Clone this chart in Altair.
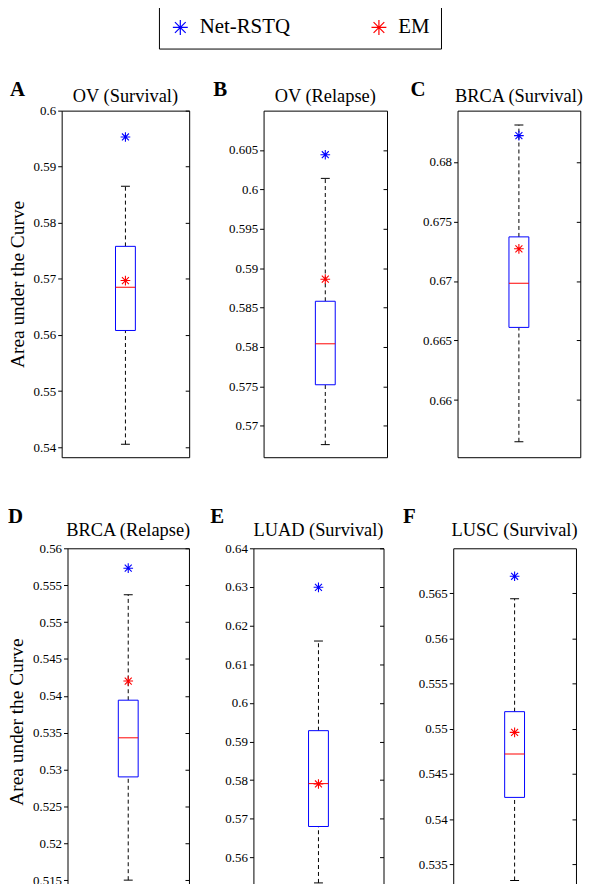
import altair as alt
import pandas as pd

# ---------------- data ----------------
panels = ["OV (Survival)", "OV (Relapse)", "BRCA (Survival)",
          "BRCA (Relapse)", "LUAD (Survival)", "LUSC (Survival)"]
letters = ["A", "B", "C", "D", "E", "F"]
lower_whisker = [0.5405, 0.5676, 0.6565, 0.5150, 0.5534, 0.5332]
q1 = [0.5608, 0.5752, 0.6661, 0.5290, 0.5680, 0.5424]
median = [0.5685, 0.5804, 0.6698, 0.5343, 0.5791, 0.5472]
q3 = [0.5758, 0.5858, 0.6737, 0.5394, 0.5928, 0.5519]
upper_whisker = [0.5865, 0.6014, 0.6831, 0.5537, 0.6160, 0.5644]
net_rstq = [0.5953, 0.6044, 0.6822, 0.5573, 0.6299, 0.5669]
em = [0.5697, 0.5886, 0.6727, 0.5420, 0.5790, 0.5496]
series = ["Net-RSTQ", "EM"]
series_colors = ["#0000ff", "#ff0000"]

y_domains = [[0.5382, 0.6], [0.566, 0.61], [0.6552, 0.6843],
             [0.513, 0.56], [0.5503, 0.64], [0.5316, 0.570]]
tick_values = [
    [0.54, 0.55, 0.56, 0.57, 0.58, 0.59, 0.6],
    [0.57, 0.575, 0.58, 0.585, 0.59, 0.595, 0.6, 0.605],
    [0.66, 0.665, 0.67, 0.675, 0.68],
    [0.515, 0.52, 0.525, 0.53, 0.535, 0.54, 0.545, 0.55, 0.555, 0.56],
    [0.56, 0.57, 0.58, 0.59, 0.6, 0.61, 0.62, 0.63, 0.64],
    [0.535, 0.54, 0.545, 0.55, 0.555, 0.56, 0.565],
]
y_title = "Area under the Curve"

# ---------------- styling / layout ----------------
FONT = "Liberation Serif"
STAR = "M-1,0L1,0M0,-1L0,1M-0.72,-0.72L0.72,0.72M-0.72,0.72L0.72,-0.72"
BLUE = "#0000ff"
RED = "#ff0000"
widths = [128.4, 124.3, 123.6, 122.3, 131, 123.6]
H = 349
letter_dx = [-52, -50.7, -47.4, -60, -43.5, -50.5]
letter_dy = [-15, -15, -15, -25, -25.5, -25]
title_dy = [-9, -9, -9, -12.5, -12.5, -12.5]


def panel(i):
    w = widths[i]
    box = pd.DataFrame({
        "panel": [panels[i]], "letter": [letters[i]],
        "lo": [lower_whisker[i]], "q1": [q1[i]], "med": [median[i]],
        "q3": [q3[i]], "hi": [upper_whisker[i]],
    })
    stars = pd.DataFrame({
        "panel": [panels[i]] * 2, "series": series,
        "value": [net_rstq[i], em[i]],
    })
    ysc = alt.Scale(domain=y_domains[i], nice=False, zero=False)
    xenc = alt.X("panel:N", axis=None, scale=alt.Scale(type="point", padding=0.5))
    left_axis = alt.Axis(
        orient="left", values=tick_values[i], format="~g", tickSize=4,
        labelPadding=2, domain=False, grid=False,
        title=y_title if i in (0, 3) else None, titlePadding=6,
    )
    right_axis = alt.Axis(
        orient="right", values=tick_values[i], labels=False, tickSize=4,
        offset=-4, domain=False, grid=False, title=None,
    )
    base = alt.Chart(box).encode(x=xenc)
    w_lo = base.mark_rule(color="black", strokeWidth=1, strokeDash=[4, 3]).encode(
        y=alt.Y("lo:Q", scale=ysc, axis=left_axis), y2="q1:Q")
    w_hi = base.mark_rule(color="black", strokeWidth=1, strokeDash=[4, 3]).encode(
        y=alt.Y("q3:Q", scale=ysc, axis=right_axis), y2="hi:Q")
    bx = base.mark_bar(size=20, fill="white", stroke=BLUE, strokeWidth=1).encode(
        y=alt.Y("q1:Q", scale=ysc, axis=None), y2="q3:Q")
    med = base.mark_tick(size=20, thickness=1, color=RED, opacity=1).encode(
        y=alt.Y("med:Q", scale=ysc, axis=None))
    cap_lo = base.mark_tick(size=9, thickness=1, color="black", opacity=1).encode(
        y=alt.Y("lo:Q", scale=ysc, axis=None))
    cap_hi = base.mark_tick(size=9, thickness=1, color="black", opacity=1).encode(
        y=alt.Y("hi:Q", scale=ysc, axis=None))
    pts = alt.Chart(stars).mark_point(
        shape=STAR, size=95, filled=False, strokeWidth=1.1, opacity=1
    ).encode(
        x=xenc,
        y=alt.Y("value:Q", scale=ysc, axis=None),
        color=alt.Color(
            "series:N",
            scale=alt.Scale(domain=series, range=series_colors),
            legend=alt.Legend(
                orient="none", legendX=98, legendY=-105.5, direction="horizontal",
                title=None, labelFont=FONT, labelFontSize=21, labelColor="black",
                symbolType=STAR, symbolSize=225, symbolStrokeWidth=1.2,
                labelOffset=9, columnPadding=79, padding=11,
                strokeColor="black", fillColor="white",
            ),
        ),
    )
    letter = base.mark_text(
        align="left", baseline="alphabetic", font=FONT, fontSize=21,
        fontWeight="bold", color="black",
    ).encode(x=alt.value(letter_dx[i]), y=alt.value(letter_dy[i]), text="letter:N")
    ttl = base.mark_text(
        align="center", baseline="alphabetic", font=FONT, fontSize=18.5, color="black",
    ).encode(x=alt.value(w / 2), y=alt.value(title_dy[i]), text="panel:N")
    return alt.layer(w_lo, w_hi, bx, med, cap_lo, cap_hi, pts, letter, ttl).properties(
        width=w, height=H
    ).resolve_axis(y="independent")


row1 = alt.hconcat(panel(0), panel(1), panel(2), spacing=21.3)
row2 = alt.hconcat(panel(3), panel(4), panel(5), spacing=18.2)
chart = alt.vconcat(row1, row2, spacing=47.7, center=True).properties(
    padding={"left": -2, "top": -5.7, "right": 0, "bottom": -15},
    background="white",
).configure_view(
    stroke="black", strokeWidth=1
).configure_axis(
    labelFont=FONT, labelFontSize=13, labelColor="black", tickColor="black",
    tickWidth=1, titleFont=FONT, titleFontSize=19.5, titleFontWeight="normal",
    titleColor="black",
)

chart.save("out.html", embed_options={"renderer": "svg", "actions": False})
